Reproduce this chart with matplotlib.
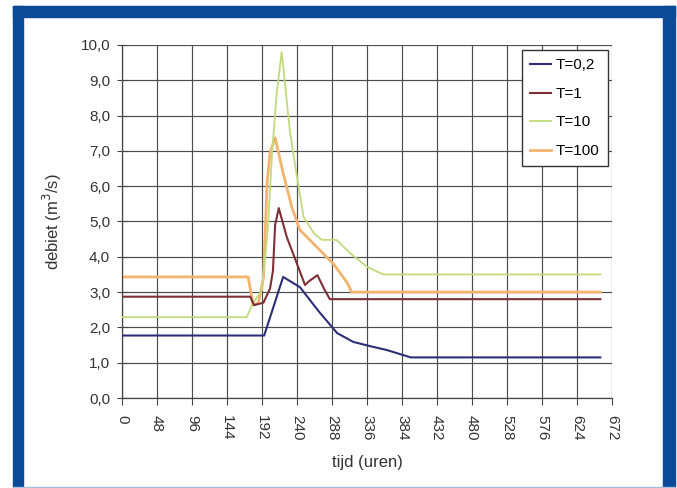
import matplotlib

matplotlib.use("Agg")
import matplotlib.pyplot as plt
from matplotlib.patches import Rectangle

plt.rcParams["font.family"] = ["Liberation Sans", "DejaVu Sans"]

# hydrographs (tijd in uren, debiet in m3/s)
t_02 = [0, 195, 221, 244, 270, 295, 317, 340, 363, 396, 656]
q_02 = [1.77, 1.77, 3.43, 3.14, 2.45, 1.84, 1.59, 1.47, 1.36, 1.15, 1.15]

t_1 = [0, 176, 181, 194, 203, 207, 210, 215, 226, 240, 251, 256, 268, 277, 285, 656]
q_1 = [2.87, 2.87, 2.63, 2.7, 3.1, 3.6, 4.9, 5.38, 4.56, 3.8, 3.2, 3.3, 3.48, 3.1, 2.8, 2.8]

t_10 = [0, 171, 180, 192, 200, 206, 212, 219, 230, 240, 249, 263, 274, 294, 313, 336, 358, 656]
q_10 = [2.29, 2.29, 2.7, 3.06, 4.8, 7.0, 8.6, 9.8, 7.6, 6.26, 5.13, 4.67, 4.48, 4.48, 4.1, 3.72, 3.5, 3.5]

t_100 = [0, 173, 180, 187, 194, 199, 203, 210, 221, 233, 244, 267, 290, 309, 315, 656]
q_100 = [3.43, 3.43, 2.63, 2.7, 3.4, 6.1, 6.95, 7.37, 6.37, 5.4, 4.76, 4.28, 3.8, 3.26, 3.0, 3.0]

labels = ["T=0,2", "T=1", "T=10", "T=100"]
xticks = list(range(0, 673, 48))
yticks = [i * 1.0 for i in range(11)]

fig = plt.figure(figsize=(6.77, 4.88), dpi=100)
W, H = 677, 488
blue = "#0b4a97"
# blue frame round the chart
fig.patches.append(Rectangle((13 / W, 0), 10 / W, 1 - 6 / H, transform=fig.transFigure, color=blue, zorder=0))
fig.patches.append(Rectangle((13 / W, 1 - 17 / H), 662 / W, 11 / H, transform=fig.transFigure, color=blue, zorder=0))
fig.patches.append(Rectangle((663 / W, 0), 12 / W, 1 - 6 / H, transform=fig.transFigure, color=blue, zorder=0))
fig.patches.append(Rectangle((13 / W, 0), 662 / W, 1.5 / H, transform=fig.transFigure, color="#a8c0e0", zorder=0))

ax = fig.add_axes([122 / W, 90 / H, 490 / W, 353 / H])
ax.plot(t_02, q_02, color="#2e2e78", lw=1.5, label=labels[0], zorder=5)
ax.plot(t_1, q_1, color="#7e2f35", lw=1.5, label=labels[1], zorder=4)
ax.plot(t_10, q_10, color="#c2da7c", lw=1.3, label=labels[2], zorder=3)
ax.plot(t_100, q_100, color="#f3b46e", lw=2.0, label=labels[3], zorder=2)

ax.set_xlim(0, 672)
ax.set_ylim(0, 10)
ax.set_xticks(xticks)
ax.set_xticklabels([str(x) for x in xticks], rotation=-90, fontsize=11, color="#333333")
ax.set_yticks(yticks)
ax.set_yticklabels([f"{y:.1f}".replace(".", ",") for y in yticks], fontsize=11, color="#333333")
ax.tick_params(axis="y", direction="inout", length=7, width=0.8, color="#444444", pad=5)
ax.tick_params(axis="x", direction="out", length=5, width=0.8, color="#444444", pad=7)
ax.grid(True, color="#4d4d4d", lw=0.85)
ax.set_axisbelow(True)
for side in ("top", "right"):
    ax.spines[side].set_visible(False)
for side in ("left", "bottom"):
    ax.spines[side].set_color("#444444")
    ax.spines[side].set_linewidth(0.9)

ax.set_xlabel("tijd (uren)", fontsize=12, color="#333333", labelpad=11)
ax.set_ylabel("debiet (m$^3$/s)", fontsize=12, color="#333333", labelpad=12)

leg = ax.legend(loc="upper right", bbox_to_anchor=(0.992, 0.986), borderaxespad=0, fontsize=11,
                frameon=True, fancybox=False, edgecolor="#333333", framealpha=1, handlelength=1.4,
                handletextpad=0.3, labelspacing=0.95, borderpad=0.55)
leg.get_frame().set_linewidth(1.0)

fig.savefig("out.png", dpi=100, facecolor="white")
